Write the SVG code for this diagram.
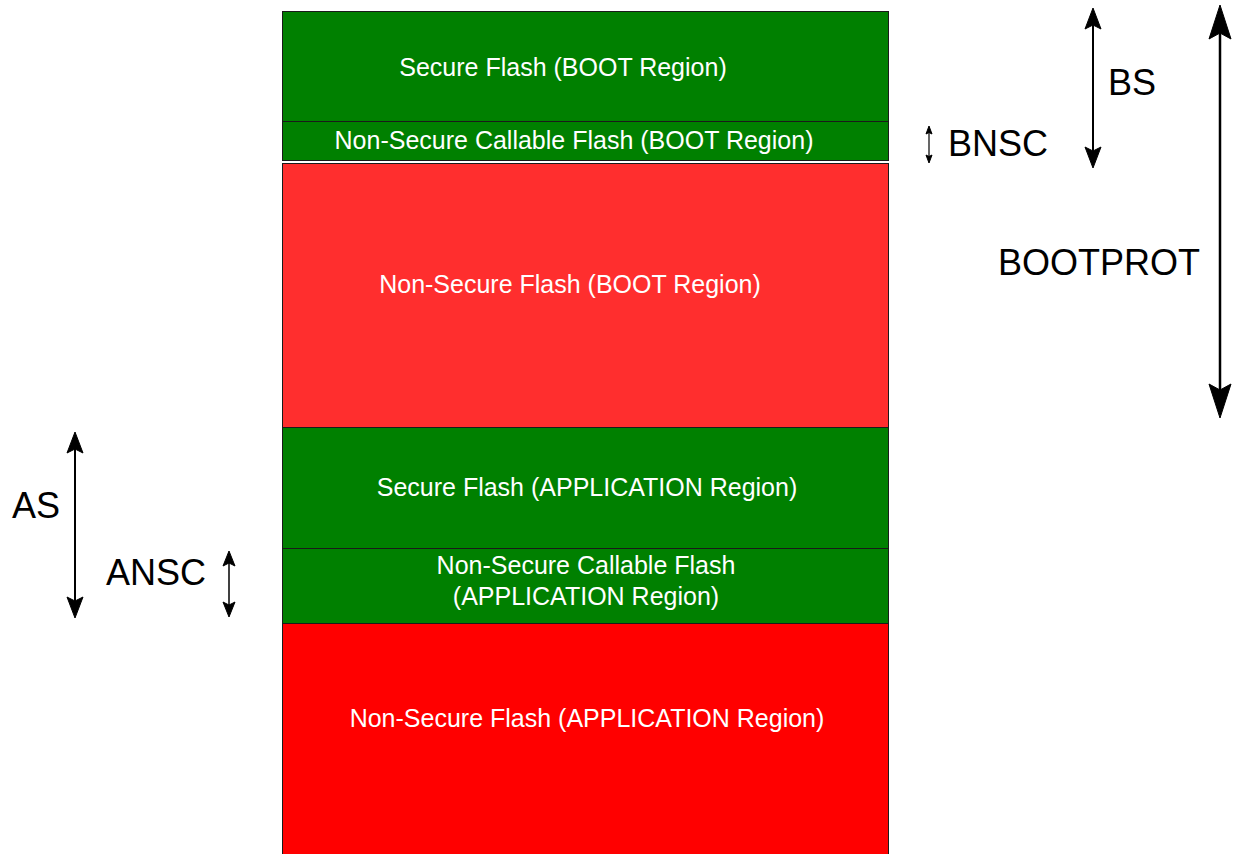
<svg xmlns="http://www.w3.org/2000/svg" width="1236" height="854" viewBox="0 0 1236 854">
<style>
.box{stroke:#1a1a1a;stroke-width:1}
.g{fill:#008000}
.r1{fill:#ff2e2e}
.r2{fill:#ff0000}
.t{font-family:"Liberation Sans",Arial,sans-serif;font-size:25px;fill:#ffffff;text-anchor:middle}
.lbl{font-family:"Liberation Sans",Arial,sans-serif;font-size:36px;fill:#000000}
.ln{stroke:#000;fill:none}
.hd{fill:#000;stroke:#000;stroke-linejoin:miter}
</style>
<rect width="1236" height="854" fill="#ffffff"/>
<g id="secure-boot"><rect class="box g" x="282.5" y="11.5" width="606" height="110"/><text class="t" x="563" y="76">Secure Flash (BOOT Region)</text></g>
<g id="nsc-boot"><rect class="box g" x="282.5" y="121.5" width="606" height="39"/><text class="t" x="574" y="149">Non-Secure Callable Flash (BOOT Region)</text></g>
<g id="ns-boot"><rect class="box r1" x="282.5" y="163.5" width="606" height="264"/><text class="t" x="570" y="293">Non-Secure Flash (BOOT Region)</text></g>
<g id="secure-app"><rect class="box g" x="282.5" y="427.5" width="606" height="121"/><text class="t" x="587" y="496">Secure Flash (APPLICATION Region)</text></g>
<g id="nsc-app"><rect class="box g" x="282.5" y="548.5" width="606" height="75"/><text class="t" x="586" y="574">Non-Secure Callable Flash</text><text class="t" x="586" y="605">(APPLICATION Region)</text></g>
<g id="ns-app"><rect class="box r2" x="282.5" y="623.5" width="606" height="240"/><text class="t" x="587" y="727">Non-Secure Flash (APPLICATION Region)</text></g>
<g id="connectors">
<g id="bs-arrow"><line class="ln" stroke-width="2" x1="1093" y1="24" x2="1093" y2="152"/><path class="hd" d="M1093,8 L1101,29 L1093,25 L1085,29 Z"/><path class="hd" d="M1093,168 L1101,147 L1093,151 L1085,147 Z"/></g>
<g id="bnsc-arrow"><line class="ln" stroke-width="1.2" x1="929" y1="131" x2="929" y2="158"/><path class="hd" d="M929,126 L932,134 L929,132.5 L926,134 Z"/><path class="hd" d="M929,163 L932,155 L929,156.5 L926,155 Z"/></g>
<g id="bootprot-arrow"><line class="ln" stroke-width="2.5" x1="1220" y1="30" x2="1220" y2="392"/><path class="hd" d="M1220,5 L1231,39 L1220,33 L1209,39 Z"/><path class="hd" d="M1220,418 L1231,384 L1220,390 L1209,384 Z"/></g>
<g id="as-arrow"><line class="ln" stroke-width="2" x1="75" y1="448" x2="75" y2="602"/><path class="hd" d="M75,432 L83,453 L75,449 L67,453 Z"/><path class="hd" d="M75,618 L83,597 L75,601 L67,597 Z"/></g>
<g id="ansc-arrow"><line class="ln" stroke-width="1.5" x1="229" y1="560" x2="229" y2="608"/><path class="hd" d="M229,551 L235,566 L229,563 L223,566 Z"/><path class="hd" d="M229,617 L235,602 L229,605 L223,602 Z"/></g>
</g>
<g id="labels">
<text class="lbl" x="1108" y="95">BS</text>
<text class="lbl" x="948" y="156">BNSC</text>
<text class="lbl" x="998" y="275">BOOTPROT</text>
<text class="lbl" x="12" y="518">AS</text>
<text class="lbl" x="106" y="585">ANSC</text>
</g>
</svg>
